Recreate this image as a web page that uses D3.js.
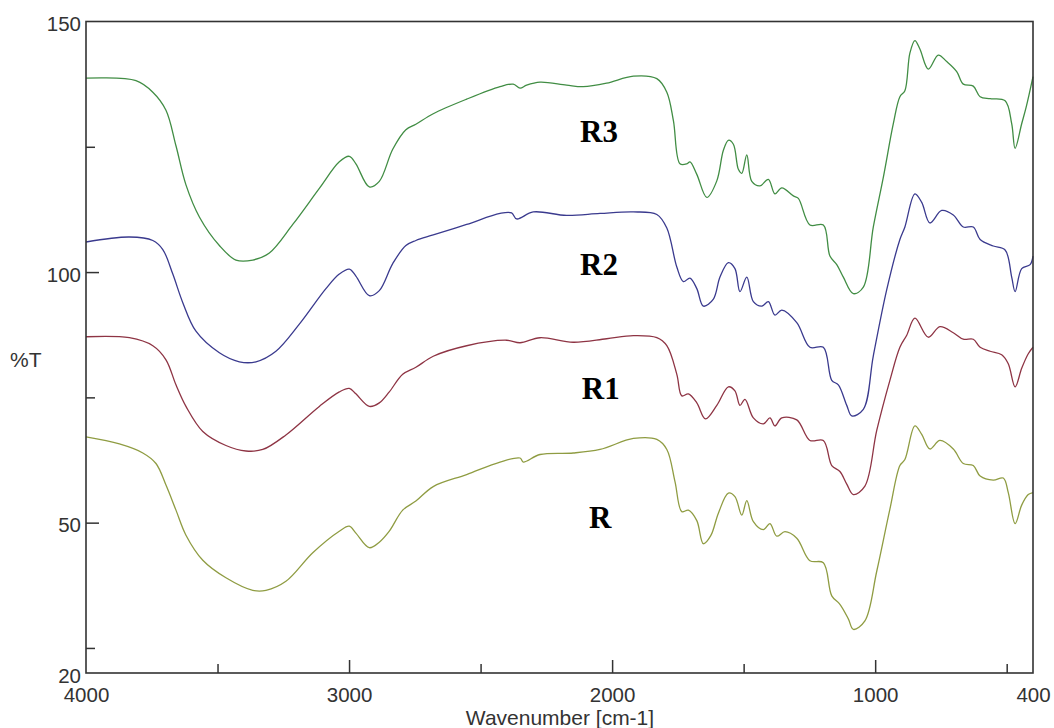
<!DOCTYPE html>
<meta charset="utf-8">
<script src="https://d3js.org/d3.v7.min.js"></script>
<style>
    body { margin: 0; background: #fff; }
    .tick text { font-family: "Liberation Sans", Arial, sans-serif; font-size: 20.5px; fill: #333; }
    .lbl { font-family: "Liberation Serif", "Times New Roman", serif; font-weight: bold; font-size: 31px; fill: #000; }
    .ttl { font-family: "Liberation Sans", Arial, sans-serif; font-size: 21px; fill: #333; }
</style>
<body>
<svg id="chart" width="1054" height="728"></svg>
<script>
// FTIR spectra, values (wavenumber, %T)
var wnR3 = [4000,3810,3746,3696,3658,3620,3569,3493,3430,3366,3303,3214,3113,3037,2999,2974,2923,2885,2834,2784,2746,2680,2553,2426,2376,2350,2325,2274,2173,2110,2021,1919,1830,1792,1767,1742,1716,1704,1678,1640,1602,1577,1558,1539,1520,1507,1488,1469,1438,1406,1381,1355,1311,1292,1248,1197,1172,1146,1121,1083,1045,1007,969,931,906,887,868,849,830,798,760,728,690,665,627,601,563,506,481,468,443,426,400];
var tR3 = [138.7,138.2,135.9,132.3,125.2,117.4,111.0,105.3,102.4,102.4,103.8,109.5,116.7,122.0,123.1,121.6,117.0,118.1,124.5,128.4,129.5,131.6,134.5,137.0,137.5,136.7,137.3,137.9,137.3,137.0,137.7,139.1,138.6,135.9,130.2,121.6,121.6,122.0,119.5,114.9,118.2,124.3,126.3,125.5,120.5,119.7,123.4,118.1,117.2,118.5,115.6,116.8,115.2,114.7,109.4,109.4,103.2,101.5,99.0,95.7,97.0,109.0,118.9,129.6,135.0,136.2,143.7,146.2,144.5,140.5,143.3,142.0,140.0,137.5,137.1,135.0,134.6,134.2,129.6,124.7,129.6,132.9,139.0];

var wnR2 = [4000,3835,3746,3708,3670,3632,3582,3493,3417,3354,3278,3189,3088,3037,2999,2974,2923,2885,2834,2784,2746,2680,2553,2426,2382,2363,2300,2173,2046,1919,1830,1792,1754,1729,1704,1678,1653,1615,1590,1558,1533,1514,1488,1463,1431,1406,1381,1355,1298,1248,1197,1165,1140,1108,1089,1045,1007,956,906,887,849,823,792,747,703,665,627,601,551,506,481,468,443,411,400];
var tR2 = [106.0,107.0,106.3,104.5,99.6,93.9,88.2,83.9,82.1,82.1,84.2,89.6,96.7,99.6,100.6,99.2,95.3,96.3,101.7,105.3,106.3,107.4,109.5,111.7,111.8,110.6,112.0,111.3,111.7,112.0,111.5,108.8,101.0,98.1,98.8,96.7,93.2,94.6,99.0,101.9,100.7,96.1,99.0,94.1,93.2,94.1,91.4,92.4,89.9,85.0,85.0,78.4,77.5,73.4,71.3,72.6,83.3,96.5,106.5,109.0,115.6,113.9,109.8,112.3,111.4,109.0,109.0,106.5,105.2,104.4,99.0,96.1,100.7,101.5,103.2];

var wnR1 = [4000,3835,3746,3696,3658,3620,3556,3468,3392,3328,3240,3113,3037,2999,2974,2923,2885,2847,2796,2746,2680,2553,2401,2350,2274,2148,2021,1919,1830,1792,1754,1735,1710,1678,1645,1602,1558,1533,1514,1495,1463,1425,1400,1381,1355,1298,1248,1197,1165,1134,1108,1083,1039,994,944,906,880,849,798,754,703,665,627,601,563,519,494,468,443,418,400];
var tR1 = [87.1,86.9,85.3,82.5,77.5,73.2,68.2,65.4,64.3,64.6,67.5,73.2,76.1,76.8,75.7,73.2,73.9,76.1,79.6,81.0,83.2,85.3,86.4,85.9,86.9,86.0,86.7,87.3,86.9,85.3,79.6,75.3,75.7,73.9,70.7,73.4,77.1,76.3,73.4,74.6,70.9,69.7,70.9,69.3,70.9,70.5,66.4,66.4,61.4,60.2,57.7,55.6,57.3,68.4,78.4,85.0,87.4,90.8,87.0,89.1,87.9,86.6,86.6,85.0,84.2,83.5,81.7,77.1,80.8,83.7,85.0];

var wnR = [4000,3873,3784,3734,3696,3658,3620,3556,3468,3366,3316,3240,3138,3037,2999,2974,2923,2885,2847,2796,2746,2680,2553,2426,2350,2338,2274,2148,2046,1919,1830,1792,1761,1735,1710,1678,1653,1625,1596,1558,1533,1507,1488,1463,1425,1400,1374,1343,1298,1248,1197,1165,1134,1102,1083,1039,994,944,906,887,849,823,792,754,703,665,627,601,551,513,494,468,443,418,400];
var tR = [67.1,65.7,63.9,61.8,57.5,52.5,47.5,42.5,39.0,36.5,36.5,38.3,44.0,48.3,49.3,47.9,45.0,46.1,48.3,52.5,54.3,57.2,59.6,62.1,62.9,62.1,63.6,63.9,64.6,66.8,66.6,64.6,58.2,52.2,52.5,50.4,45.8,47.4,51.9,55.9,55.2,51.5,54.4,50.2,48.6,49.8,47.3,48.2,46.9,42.4,42.0,35.4,33.7,30.8,28.7,30.4,40.3,52.7,61.4,62.6,69.3,67.6,64.7,66.4,64.7,61.8,61.4,59.3,58.5,58.9,56.0,49.8,53.5,55.6,56.0];

var seriesNames = ["R3", "R2", "R1", "R"];
var seriesColors = ["#418d44", "#3a3a8e", "#8e3444", "#8f9c42"];

// axis ticks
var xLabels = [4000, 3000, 2000, 1000, 400];
var xMajor = [3000, 2000, 1000];
var xMinor = [3500, 2500, 1500, 500];
var yLabels = [150, 100, 50, 20];
var yMajor = [100, 50];
var yMinor = [125, 75, 25];

// label anchor points (wavenumber, %T at baseline)
var labelWn = [2050, 2050, 2043, 2045];
var labelT = [126.0, 99.5, 74.7, 48.9];

var svg = d3.select("#chart");
var mLeft = 86, mRight = 1033, mTop = 21.5, mBottom = 673;

var x = d3.scaleLinear().domain([4000, 400]).range([mLeft, mRight]);
var y = d3.scaleLinear().domain([20, 150]).range([mBottom, mTop]);

var series = [
    {wn: wnR3, t: tR3},
    {wn: wnR2, t: tR2},
    {wn: wnR1, t: tR1},
    {wn: wnR, t: tR}
];

var line = d3.line()
    .x(function(d) { return x(d[0]); })
    .y(function(d) { return y(d[1]); })
    .curve(d3.curveCatmullRom.alpha(0.5));

svg.selectAll("path.spec")
    .data(series)
    .enter()
    .append("path")
    .attr("class", "spec")
    .attr("d", function(s) { return line(d3.zip(s.wn, s.t)); })
    .attr("fill", "none")
    .attr("stroke", function(s, i) { return seriesColors[i]; })
    .attr("stroke-width", 1.3);

// frame
svg.append("rect")
    .attr("x", mLeft).attr("y", mTop)
    .attr("width", mRight - mLeft).attr("height", mBottom - mTop)
    .attr("fill", "none").attr("stroke", "#333").attr("stroke-width", 1.6);

// x axis: labels, then inward ticks
svg.append("g")
    .attr("transform", "translate(0," + mBottom + ")")
    .call(d3.axisBottom(x).tickValues(xLabels).tickSize(0).tickPadding(14.5).tickFormat(d3.format("d")))
    .call(function(g) { g.select(".domain").remove(); });

svg.append("g")
    .attr("transform", "translate(0," + mBottom + ")")
    .call(d3.axisBottom(x).tickValues(xMajor).tickSize(-13).tickFormat(""))
    .call(function(g) { g.select(".domain").remove(); g.selectAll("line").attr("stroke", "#333").attr("stroke-width", 1.5); });

svg.append("g")
    .attr("transform", "translate(0," + mBottom + ")")
    .call(d3.axisBottom(x).tickValues(xMinor).tickSize(-9).tickFormat(""))
    .call(function(g) { g.select(".domain").remove(); g.selectAll("line").attr("stroke", "#333").attr("stroke-width", 1.5); });

// y axis
svg.append("g")
    .attr("transform", "translate(" + mLeft + ",0)")
    .call(d3.axisLeft(y).tickValues(yLabels).tickSize(0).tickPadding(5))
    .call(function(g) { g.select(".domain").remove(); g.selectAll("text").attr("dy", "0.44em"); });

svg.append("g")
    .attr("transform", "translate(" + mLeft + ",0)")
    .call(d3.axisLeft(y).tickValues(yMajor).tickSize(-13).tickFormat(""))
    .call(function(g) { g.select(".domain").remove(); g.selectAll("line").attr("stroke", "#333").attr("stroke-width", 1.5); });

svg.append("g")
    .attr("transform", "translate(" + mLeft + ",0)")
    .call(d3.axisLeft(y).tickValues(yMinor).tickSize(-9).tickFormat(""))
    .call(function(g) { g.select(".domain").remove(); g.selectAll("line").attr("stroke", "#333").attr("stroke-width", 1.5); });

// axis titles
svg.append("text").attr("class", "ttl")
    .attr("x", 10).attr("y", 367)
    .text("%T");

svg.append("text").attr("class", "ttl")
    .attr("x", 560).attr("y", 725)
    .attr("text-anchor", "middle")
    .text("Wavenumber [cm-1]");

// series labels
svg.selectAll("text.lbl")
    .data(seriesNames)
    .enter()
    .append("text")
    .attr("class", "lbl")
    .attr("x", function(d, i) { return x(labelWn[i]); })
    .attr("y", function(d, i) { return y(labelT[i]); })
    .attr("text-anchor", "middle")
    .text(function(d) { return d; });
</script>
</body>
</html>
